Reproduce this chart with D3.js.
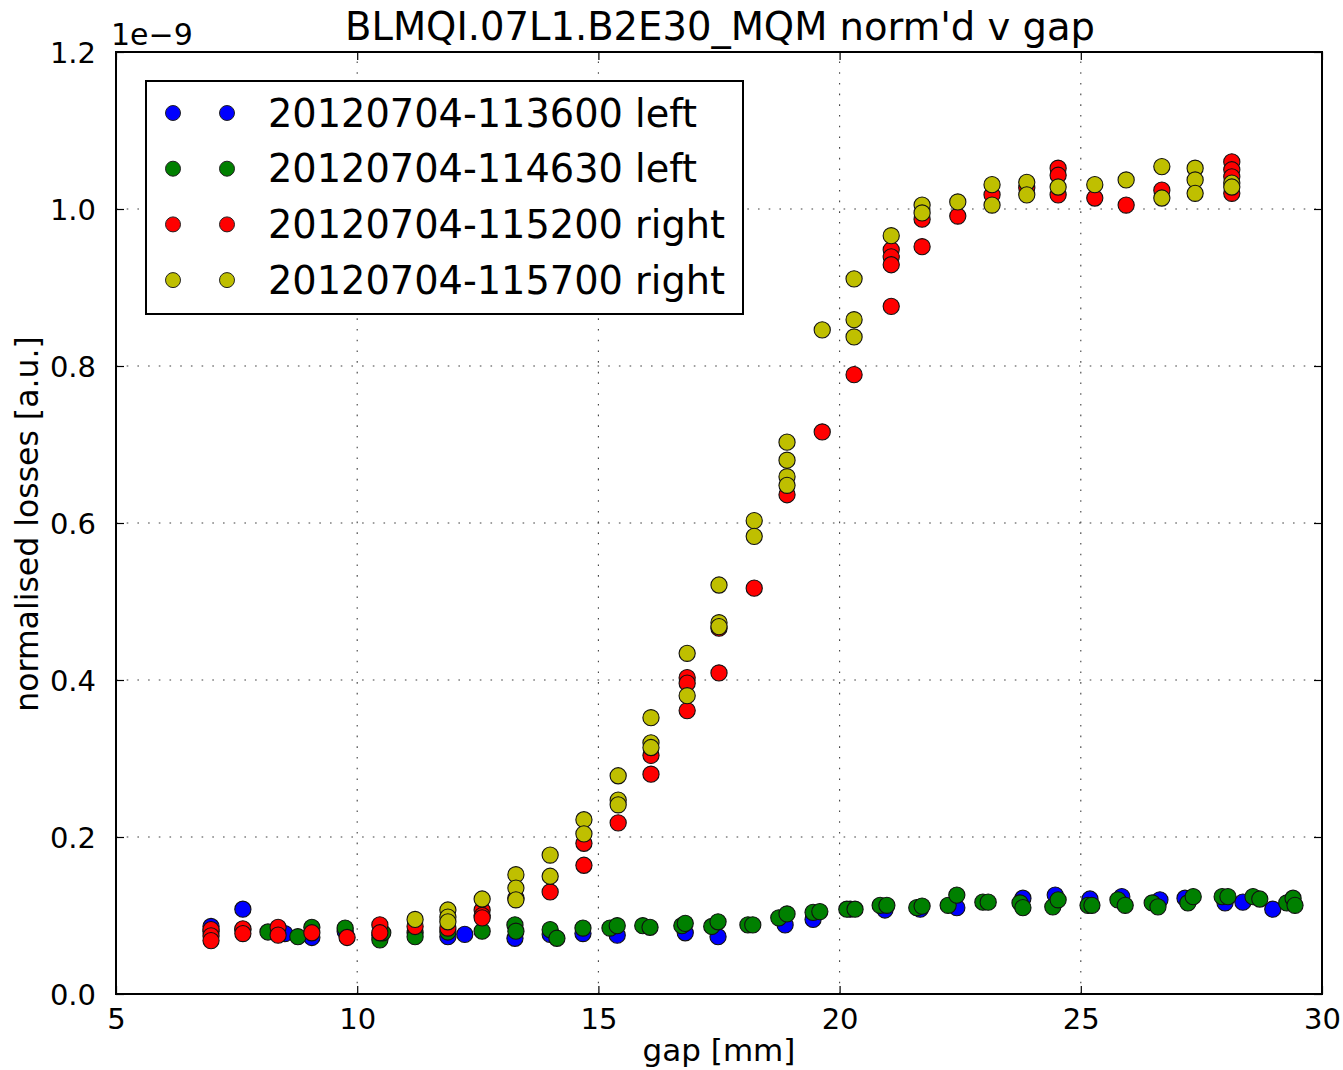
<!DOCTYPE html>
<html>
<head>
<meta charset="utf-8">
<script src="https://cdn.jsdelivr.net/npm/d3@7"></script>
<style>
  html, body { margin: 0; padding: 0; background: #fff; }
  svg { display: block; font-family: "DejaVu Sans", sans-serif; }
</style>
</head>
<body>
<svg id="chart" width="1343" height="1070"></svg>
<script>
// Normalised BLM losses (units of 1e-9) against collimator gap [mm]

const seriesNames = [
  "20120704-113600 left",
  "20120704-114630 left",
  "20120704-115200 right",
  "20120704-115700 right"
];
const seriesColors = ["#0000ff", "#008000", "#ff0000", "#bfbf00"];

// 20120704-113600 left
const blueGap = [6.97, 7.63, 8.50, 9.06, 9.75, 10.47, 11.88, 12.23, 13.27, 14.00, 14.68, 15.39, 16.80, 17.48,
  18.87, 19.45, 20.22, 20.94, 21.67, 22.43, 23.80, 24.47, 25.19, 25.85, 26.64, 27.16, 27.99, 28.36, 28.98];
const blueLoss = [0.086, 0.108, 0.077, 0.072, 0.080, 0.075, 0.073, 0.076, 0.071, 0.076, 0.077, 0.075, 0.078, 0.073,
  0.088, 0.095, 0.108, 0.107, 0.108, 0.110, 0.122, 0.126, 0.121, 0.124, 0.120, 0.122, 0.116, 0.117, 0.108];

// 20120704-114630 left
const greenGap = [6.97, 7.63, 8.15, 8.77, 9.06, 9.75, 10.47, 10.53, 11.20, 11.20, 11.88, 12.59, 13.27, 13.29,
  14.00, 14.14, 14.68, 15.24, 15.39, 15.92, 16.07, 16.73, 16.80, 17.35, 17.48, 18.10, 18.20, 18.74, 18.91,
  19.45, 19.59, 20.15, 20.32, 20.84, 20.98, 21.60, 21.71, 22.25, 22.43, 22.97, 23.08, 23.74, 23.80, 24.42,
  24.53, 25.15, 25.23, 25.77, 25.92, 26.48, 26.60, 27.22, 27.33, 27.93, 28.05, 28.57, 28.71, 29.27, 29.40, 29.44];
const greenLoss = [0.080, 0.082, 0.079, 0.073, 0.085, 0.084, 0.069, 0.078, 0.078, 0.073, 0.079, 0.080, 0.088, 0.080,
  0.082, 0.071, 0.084, 0.084, 0.087, 0.087, 0.085, 0.087, 0.090, 0.086, 0.092, 0.088, 0.088, 0.097, 0.102,
  0.104, 0.105, 0.108, 0.108, 0.113, 0.113, 0.110, 0.112, 0.113, 0.126, 0.117, 0.117, 0.116, 0.110, 0.111,
  0.120, 0.113, 0.113, 0.120, 0.113, 0.116, 0.111, 0.116, 0.124, 0.124, 0.124, 0.124, 0.121, 0.116, 0.122, 0.113];

// 20120704-115200 right
const redGap = [6.97, 6.97, 6.97, 7.63, 7.63, 8.36, 8.36, 9.06, 9.79, 10.47, 10.47, 11.20, 11.88, 12.59, 12.59, 12.59,
  13.29, 14.00, 14.70, 14.70, 15.41, 16.09, 16.09, 16.84, 16.84, 16.84, 17.50, 17.50, 18.23, 18.91, 19.64, 20.30,
  21.07, 21.07, 21.07, 21.07, 21.71, 21.71, 22.45, 23.16, 23.88, 24.53, 24.53, 24.53, 25.29, 25.94, 26.68,
  28.13, 28.13, 28.13, 28.13];
const redLoss = [0.082, 0.074, 0.068, 0.083, 0.077, 0.085, 0.075, 0.078, 0.072, 0.088, 0.078, 0.086, 0.084, 0.107, 0.100, 0.097,
  0.122, 0.130, 0.192, 0.164, 0.218, 0.304, 0.280, 0.403, 0.396, 0.361, 0.466, 0.409, 0.517, 0.636, 0.716, 0.789,
  0.948, 0.939, 0.929, 0.876, 0.987, 0.952, 0.991, 1.018, 1.027, 1.052, 1.043, 1.018, 1.014, 1.005, 1.024,
  1.060, 1.050, 1.041, 1.020];

// 20120704-115700 right
const yellowGap = [11.20, 11.88, 11.88, 11.88, 12.59, 13.29, 13.29, 13.29, 14.00, 14.00, 14.70, 14.70, 15.41, 15.41, 15.41,
  16.09, 16.09, 16.09, 16.84, 16.84, 17.50, 17.50, 17.50, 18.23, 18.23, 18.91, 18.91, 18.91, 18.91, 19.64,
  20.30, 20.30, 20.30, 21.07, 21.71, 21.71, 22.45, 23.16, 23.16, 23.88, 23.88, 24.53, 25.29, 25.94, 26.68, 26.68,
  27.37, 27.37, 27.37, 28.13, 28.13];
const yellowLoss = [0.095, 0.107, 0.098, 0.092, 0.121, 0.152, 0.135, 0.120, 0.177, 0.150, 0.222, 0.204, 0.278, 0.247, 0.241,
  0.352, 0.320, 0.314, 0.434, 0.380, 0.521, 0.473, 0.468, 0.603, 0.583, 0.703, 0.680, 0.659, 0.648, 0.846,
  0.911, 0.859, 0.837, 0.966, 1.005, 0.995, 1.009, 1.031, 1.005, 1.034, 1.018, 1.028, 1.031, 1.037, 1.054, 1.014,
  1.052, 1.037, 1.020, 1.033, 1.028];

const xTicks = [5, 10, 15, 20, 25, 30];
const yTicks = [0.0, 0.2, 0.4, 0.6, 0.8, 1.0, 1.2];
const xTickLabels = ["5", "10", "15", "20", "25", "30"];
const yTickLabels = ["0.0", "0.2", "0.4", "0.6", "0.8", "1.0", "1.2"];

const gaps = [blueGap, greenGap, redGap, yellowGap];
const losses = [blueLoss, greenLoss, redLoss, yellowLoss];

const plot = { left: 116, right: 1322, top: 52, bottom: 994 };
const svg = d3.select("#chart");

const x = d3.scaleLinear().domain([5, 30]).range([plot.left, plot.right]);
const y = d3.scaleLinear().domain([0, 1.2]).range([plot.bottom, plot.top]);

// dotted grid
const grid = svg.append("g").attr("stroke", "#000").attr("stroke-width", 1.1)
  .attr("stroke-dasharray", "1.6,9.1").attr("opacity", 0.75);
xTicks.slice(1, -1).forEach(t => {
  grid.append("line").attr("x1", x(t)).attr("x2", x(t)).attr("y1", plot.bottom).attr("y2", plot.top);
});
yTicks.slice(1, -1).forEach(t => {
  grid.append("line").attr("x1", plot.left).attr("x2", plot.right).attr("y1", y(t)).attr("y2", y(t));
});

// scatter markers, drawn series by series so later runs sit on top
const marks = svg.append("g");
gaps.forEach((g, i) => {
  const pts = g.map((gv, k) => [gv, losses[i][k]]);
  marks.append("g").selectAll("circle").data(pts).join("circle")
    .attr("cx", d => x(d[0]))
    .attr("cy", d => y(d[1]))
    .attr("r", 8.1)
    .attr("fill", seriesColors[i])
    .attr("stroke", "#111")
    .attr("stroke-width", 1.1);
});

// axes: inward ticks on all four sides
const tickLen = 8;
const axisStyle = a => a.attr("stroke", "#000").attr("stroke-width", 1.2);
const bottomAxis = d3.axisBottom(x).tickValues(xTicks).tickSize(-tickLen).tickFormat((d, i) => xTickLabels[i]).tickPadding(14);
const topAxis = d3.axisTop(x).tickValues(xTicks).tickSize(-tickLen).tickFormat("");
const leftAxis = d3.axisLeft(y).tickValues(yTicks).tickSize(-tickLen).tickFormat((d, i) => yTickLabels[i]).tickPadding(20);
const rightAxis = d3.axisRight(y).tickValues(yTicks).tickSize(-tickLen).tickFormat("");

function styleAxis(g) {
  g.select(".domain").remove();
  g.selectAll(".tick line").call(axisStyle);
  g.selectAll(".tick text").attr("fill", "#000").style("font-family", "DejaVu Sans, sans-serif");
}

svg.append("g").attr("transform", `translate(0,${plot.bottom})`).call(bottomAxis).call(styleAxis)
  .selectAll(".tick text").style("font-size", "29px");
svg.append("g").attr("transform", `translate(0,${plot.top})`).call(topAxis).call(styleAxis);
svg.append("g").attr("transform", `translate(${plot.left},0)`).call(leftAxis).call(styleAxis)
  .selectAll(".tick text").style("font-size", "29px").attr("dy", "0.36em");
svg.append("g").attr("transform", `translate(${plot.right},0)`).call(rightAxis).call(styleAxis);

// frame
svg.append("rect")
  .attr("x", plot.left).attr("y", plot.top)
  .attr("width", plot.right - plot.left).attr("height", plot.bottom - plot.top)
  .attr("fill", "none").attr("stroke", "#000").attr("stroke-width", 2);

// offset text and labels
svg.append("text").attr("x", 111).attr("y", 45).style("font-size", "30px").attr("fill", "#000").text("1e\u22129");
svg.append("text").attr("x", (plot.left + plot.right) / 2 + 1).attr("y", 40).attr("text-anchor", "middle")
  .style("font-size", "38.5px").attr("fill", "#000").text("BLMQI.07L1.B2E30_MQM norm'd v gap");
svg.append("text").attr("x", (plot.left + plot.right) / 2).attr("y", 1061).attr("text-anchor", "middle")
  .style("font-size", "31px").attr("fill", "#000").text("gap [mm]");
svg.append("text").attr("transform", `translate(38,${(plot.top + plot.bottom) / 2 + 1}) rotate(-90)`)
  .attr("text-anchor", "middle").style("font-size", "31.5px").attr("fill", "#000").text("normalised losses [a.u.]");

// legend with two sample markers per entry
const legend = svg.append("g");
legend.append("rect").attr("x", 146).attr("y", 81).attr("width", 597).attr("height", 233)
  .attr("fill", "#fff").attr("stroke", "#000").attr("stroke-width", 2);
seriesNames.forEach((name, i) => {
  const cy = 113 + i * 55.7;
  [173, 227].forEach(cx => {
    legend.append("circle").attr("cx", cx).attr("cy", cy).attr("r", 7.5)
      .attr("fill", seriesColors[i]).attr("stroke", "#222").attr("stroke-width", 1);
  });
  legend.append("text").attr("x", 268).attr("y", cy).attr("dy", "0.36em")
    .style("font-size", "38.3px").attr("fill", "#000").text(name);
});
</script>
</body>
</html>
